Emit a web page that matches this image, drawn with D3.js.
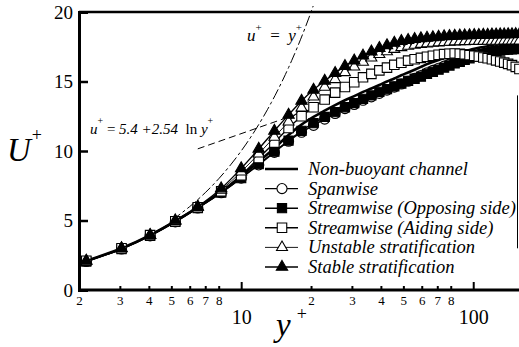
<!DOCTYPE html>
<html>
<head>
<meta charset="utf-8">
<script src="https://cdn.jsdelivr.net/npm/d3@7"></script>
<style>
  body { margin: 0; background: #fff; }
  svg { display: block; }
  text { font-family: 'Liberation Serif', 'Times New Roman', serif; }
</style>
</head>
<body>
<div id="chart"></div>
<script>
const width = 519;
const height = 347;

// wall distance of the data points (shared by all cases)
const yPlus = [2.15, 3.05, 4.05, 5.2, 6.5, 8.2, 10.0, 11.9, 13.9, 16.0, 18.2, 20.5, 22.9, 25.4, 28.0,
  30.7, 33.5, 36.4, 39.4, 42.5, 45.7, 49.0, 52.4, 55.9, 59.5, 63.2, 67.0, 70.9, 74.9, 79.0, 83.2,
  87.5, 91.9, 96.4, 101.0, 105.7, 110.5, 115.4, 120.4, 125.5, 130.7, 136.0, 141.4, 146.9, 152.5, 158.2];

const nonBuoyant = [2.1, 3.0, 3.95, 4.95, 5.95, 7.05, 8.2, 9.25, 10.2, 11.15, 11.9, 12.45, 12.9, 13.3, 13.65,
  13.95, 14.25, 14.5, 14.75, 15.0, 15.22, 15.45, 15.65, 15.85, 16.05, 16.25, 16.4, 16.55, 16.7, 16.85, 16.97,
  17.08, 17.18, 17.27, 17.35, 17.42, 17.48, 17.54, 17.59, 17.63, 17.67, 17.7, 17.72, 17.74, 17.75, 17.76];

const spanwise = [2.05, 2.95, 3.9, 4.9, 5.9, 7.0, 8.05, 9.0, 9.9, 10.7, 11.35, 11.85, 12.3, 12.7, 13.05,
  13.35, 13.65, 13.9, 14.15, 14.38, 14.6, 14.82, 15.02, 15.22, 15.42, 15.62, 15.8, 15.95, 16.1, 16.25, 16.4,
  16.52, 16.64, 16.75, 16.85, 16.95, 17.03, 17.1, 17.17, 17.23, 17.28, 17.32, 17.35, 17.38, 17.4, 17.41];

const opposing = [2.05, 2.95, 3.9, 4.9, 5.9, 7.0, 8.05, 9.05, 9.95, 10.75, 11.45, 12.0, 12.45, 12.8, 13.15,
  13.45, 13.75, 14.0, 14.25, 14.45, 14.65, 14.85, 15.05, 15.2, 15.35, 15.55, 15.7, 15.85, 16.0, 16.15, 16.3,
  16.42, 16.55, 16.67, 16.78, 16.88, 16.97, 17.05, 17.12, 17.18, 17.23, 17.27, 17.3, 17.32, 17.34, 17.35];

const aiding = [2.1, 3.0, 3.95, 4.95, 5.95, 7.1, 8.25, 9.5, 10.6, 11.65, 12.5, 13.15, 13.7, 14.2, 14.6,
  14.95, 15.3, 15.55, 15.8, 16.0, 16.2, 16.35, 16.5, 16.6, 16.7, 16.78, 16.85, 16.92, 16.97, 17.0, 17.02,
  17.0, 16.95, 16.9, 16.85, 16.8, 16.73, 16.67, 16.6, 16.52, 16.44, 16.36, 16.27, 16.18, 16.05, 15.9];

const unstable = [2.1, 3.0, 3.95, 4.95, 5.95, 7.2, 8.5, 9.8, 11.0, 12.1, 13.1, 13.9, 14.6, 15.15, 15.65,
  16.05, 16.4, 16.7, 16.95, 17.15, 17.32, 17.45, 17.55, 17.62, 17.68, 17.72, 17.76, 17.79, 17.82, 17.84, 17.86,
  17.87, 17.88, 17.89, 17.9, 17.9, 17.9, 17.91, 17.91, 17.91, 17.91, 17.92, 17.92, 17.92, 17.92, 17.92];

const stable = [2.1, 3.0, 3.95, 5.0, 6.0, 7.3, 8.75, 10.15, 11.45, 12.6, 13.6, 14.4, 15.05, 15.6, 16.1,
  16.5, 16.85, 17.15, 17.4, 17.6, 17.78, 17.9, 17.98, 18.05, 18.1, 18.14, 18.18, 18.21, 18.24, 18.26, 18.28,
  18.3, 18.31, 18.32, 18.33, 18.34, 18.35, 18.36, 18.37, 18.37, 18.38, 18.38, 18.39, 18.39, 18.4, 18.4];

const legendLabels = ['Non-buoyant channel', 'Spanwise', 'Streamwise (Opposing side)',
  'Streamwise (Aiding side)', 'Unstable stratification', 'Stable stratification'];

const yTicks = [0, 5, 10, 15, 20];
const xMinorTicks = [2, 3, 4, 5, 6, 7, 8, 20, 30, 40, 50, 60, 70, 80];
const xMajorTicks = [10, 100];

const series = [
  { label: legendLabels[0], values: nonBuoyant, symbol: null, fill: 'none', lw: 2.6 },
  { label: legendLabels[1], values: spanwise, symbol: d3.symbolCircle, size: 80, fill: '#fff', lw: 1.4 },
  { label: legendLabels[2], values: opposing, symbol: d3.symbolSquare, size: 85, fill: '#000', lw: 1.4 },
  { label: legendLabels[3], values: aiding, symbol: d3.symbolSquare, size: 90, fill: '#fff', lw: 1.4 },
  { label: legendLabels[4], values: unstable, symbol: d3.symbolTriangle, size: 52, fill: '#fff', lw: 0.9 },
  { label: legendLabels[5], values: stable, symbol: d3.symbolTriangle, size: 56, fill: '#000', lw: 1.4 }
];

const margin = { left: 79, top: 12, right: 0, bottom: 57 };
const x = d3.scaleLog().domain([2, 157.5]).range([margin.left, width - margin.right]);
const y = d3.scaleLinear().domain([0, 20]).range([height - margin.bottom, margin.top]);

const svg = d3.select('#chart').append('svg')
  .attr('width', width)
  .attr('height', height);

svg.append('clipPath').attr('id', 'plot-clip')
  .append('rect')
  .attr('x', margin.left).attr('y', margin.top - 6)
  .attr('width', width - margin.left).attr('height', y(0) - margin.top + 6);

const plot = svg.append('g').attr('clip-path', 'url(#plot-clip)');

// reference laws
const viscous = d3.range(5, 21, 0.5);
plot.append('path')
  .datum(viscous)
  .attr('fill', 'none')
  .attr('stroke', '#000')
  .attr('stroke-width', 1)
  .attr('stroke-dasharray', '11,3,3,3')
  .attr('d', d3.line().x(d => x(d)).y(d => y(d)));

const logLaw = [6.5, 20];
plot.append('path')
  .datum(logLaw)
  .attr('fill', 'none')
  .attr('stroke', '#000')
  .attr('stroke-width', 1)
  .attr('stroke-dasharray', '7,4')
  .attr('d', d3.line().x(d => x(d)).y(d => y(5.4 + 2.54 * Math.log(d))));

// profiles
const line = d3.line()
  .x((d, i) => x(yPlus[i]))
  .y(d => y(d))
  .curve(d3.curveMonotoneX);

series.forEach(s => {
  plot.append('path')
    .datum(s.values)
    .attr('fill', 'none')
    .attr('stroke', '#000')
    .attr('stroke-width', s.lw)
    .attr('d', line);
  if (s.symbol) {
    plot.append('g')
      .selectAll('path')
      .data(s.values)
      .join('path')
      .attr('transform', (d, i) => `translate(${x(yPlus[i])},${y(d)})`)
      .attr('d', d3.symbol().type(s.symbol).size(s.size))
      .attr('fill', s.fill)
      .attr('stroke', '#000')
      .attr('stroke-width', 1.1);
  }
});

// frame
svg.append('line')
  .attr('x1', margin.left).attr('x2', width)
  .attr('y1', y(20)).attr('y2', y(20))
  .attr('stroke', '#000').attr('stroke-width', 2.5);
svg.append('line')
  .attr('x1', width - 1.5).attr('x2', width - 1.5)
  .attr('y1', y(14)).attr('y2', y(3))
  .attr('stroke', '#000').attr('stroke-width', 1);

// y axis
const yAxis = svg.append('g').attr('transform', `translate(${margin.left},0)`)
  .call(d3.axisLeft(y).tickValues(yTicks).tickSize(-9).tickPadding(5).tickFormat(d3.format('d')));
yAxis.attr('font-family', null);
yAxis.select('.domain').attr('stroke-width', 3);
yAxis.selectAll('.tick line').attr('stroke-width', 2.5);
yAxis.selectAll('.tick text')
  .attr('font-size', 19)
  .attr('x', -6);

// x axis
const xAxis = svg.append('g').attr('transform', `translate(0,${y(0)})`)
  .call(d3.axisBottom(x).tickValues(xMinorTicks).tickSize(-4).tickPadding(6).tickFormat(d3.format('d')));
xAxis.attr('font-family', null);
xAxis.select('.domain').attr('stroke-width', 3).attr('d', `M${margin.left},0H${width}`);
xAxis.selectAll('.tick line').attr('stroke-width', 2);
xAxis.selectAll('.tick text')
  .attr('font-size', 13)
  .text(d => String(d).charAt(0));

const xMajor = svg.append('g').attr('transform', `translate(0,${y(0)})`)
  .call(d3.axisBottom(x).tickValues(xMajorTicks).tickSize(-8).tickPadding(20).tickFormat(d3.format('d')));
xMajor.attr('font-family', null);
xMajor.select('.domain').remove();
xMajor.selectAll('.tick line').attr('stroke-width', 2);
xMajor.selectAll('.tick text')
  .attr('font-size', 20);

// axis titles
const uTitle = svg.append('text').attr('x', 7).attr('y', 161).attr('font-size', 33).attr('font-style', 'italic');
uTitle.append('tspan').text('U');
uTitle.append('tspan').attr('dx', 1).attr('dy', -20).attr('font-size', 18).attr('font-style', 'normal').text('+');

const yTitle = svg.append('text').attr('x', 276).attr('y', 336).attr('font-size', 33).attr('font-style', 'italic');
yTitle.append('tspan').text('y');
yTitle.append('tspan').attr('dx', 6).attr('dy', -16).attr('font-size', 18).attr('font-style', 'normal').text('+');

// law labels
const lab1 = svg.append('text').attr('x', 247).attr('y', 41).attr('font-size', 17);
lab1.append('tspan').attr('font-style', 'italic').text('u');
lab1.append('tspan').attr('dy', -10).attr('font-size', 11).text('+');
lab1.append('tspan').attr('dy', 10).text('\u00a0 = \u00a0');
lab1.append('tspan').attr('font-style', 'italic').text('y');
lab1.append('tspan').attr('dy', -10).attr('font-size', 11).text('+');

const lab2 = svg.append('text').attr('x', 90).attr('y', 134).attr('font-size', 15);
lab2.append('tspan').attr('font-style', 'italic').text('u');
lab2.append('tspan').attr('dy', -10).attr('font-size', 10).text('+');
lab2.append('tspan').attr('dy', 10).text(' = ');
lab2.append('tspan').attr('font-style', 'italic').text('5.4 +2.54');
lab2.append('tspan').text('\u00a0 ln ');
lab2.append('tspan').attr('font-style', 'italic').text('y');
lab2.append('tspan').attr('dy', -10).attr('font-size', 10).text('+');

// legend
const legend = svg.append('g').attr('transform', 'translate(265,169)');
series.forEach((s, i) => {
  const g = legend.append('g').attr('transform', `translate(0,${i * 19.6})`);
  g.append('line').attr('x1', 0).attr('x2', 33).attr('stroke', '#000').attr('stroke-width', s.lw);
  if (s.symbol) {
    g.append('path')
      .attr('transform', 'translate(17,0)')
      .attr('d', d3.symbol().type(s.symbol).size(s.size))
      .attr('fill', s.fill).attr('stroke', '#000').attr('stroke-width', 1.1);
  }
  g.append('text').attr('x', 43).attr('y', 6).attr('font-size', 18.5).attr('font-style', 'italic').text(s.label);
});
</script>
</body>
</html>
